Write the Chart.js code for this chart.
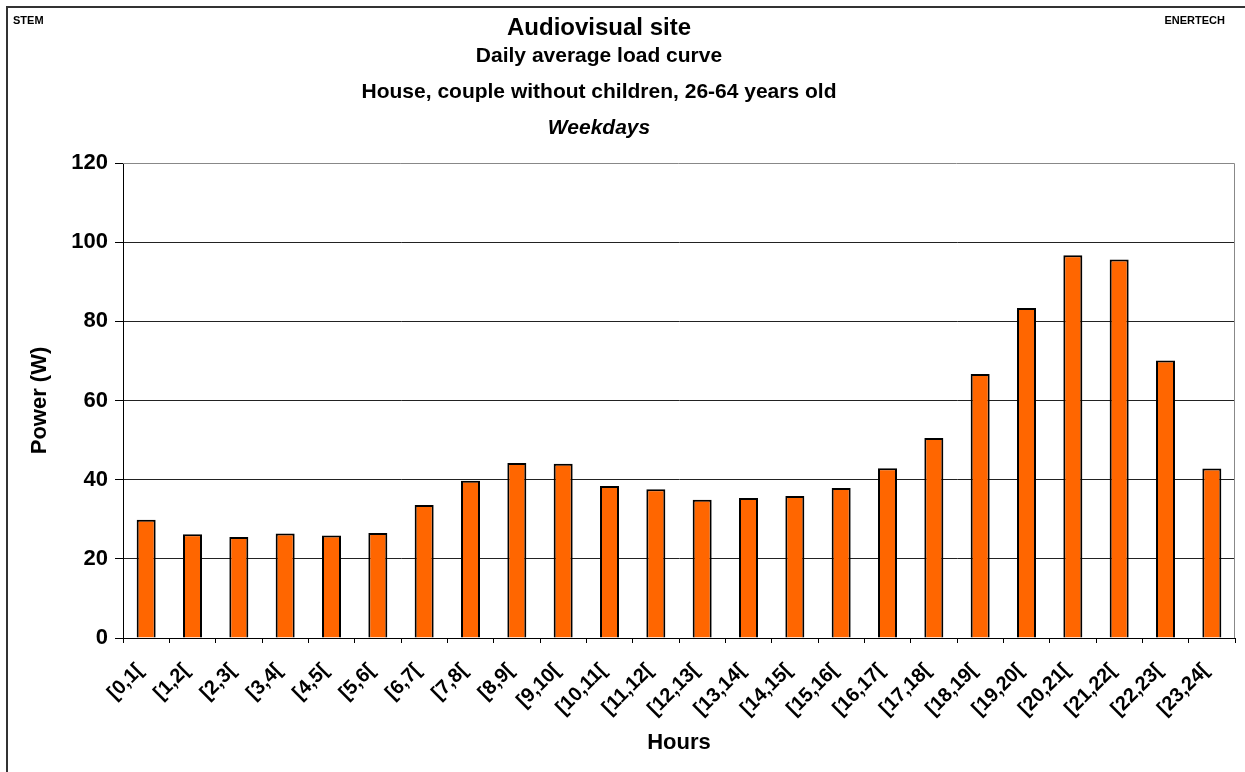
<!DOCTYPE html>
<html>
<head>
<meta charset="utf-8">
<script src="https://cdn.jsdelivr.net/npm/chart.js@4/dist/chart.umd.min.js"></script>
<style>
  html, body { margin: 0; padding: 0; background: #fff; }
  canvas { display: block; }
</style>
</head>
<body>
<canvas id="myChart" width="1245" height="772"></canvas>
<script>
// hour slots on the x axis
const hours = ["[0,1[", "[1,2[", "[2,3[", "[3,4[", "[4,5[", "[5,6[", "[6,7[", "[7,8[",
  "[8,9[", "[9,10[", "[10,11[", "[11,12[", "[12,13[", "[13,14[", "[14,15[", "[15,16[",
  "[16,17[", "[17,18[", "[18,19[", "[19,20[", "[20,21[", "[21,22[", "[22,23[", "[23,24["];
// average power in W
const power = [29.9, 26.2, 25.5, 26.4, 25.9, 26.5, 33.6, 39.7, 44.2, 44.0, 38.4, 37.6,
  34.9, 35.4, 35.9, 37.9, 42.9, 50.5, 66.7, 83.4, 96.7, 95.6, 70.1, 42.8];
const titleLines = ["Audiovisual site", "Daily average load curve",
  "House, couple without children, 26-64 years old", "Weekdays"];
const FONT = "'Liberation Sans', Arial, sans-serif";

/* frame, corner labels and titles */
const decor = {
  id: "decor",
  beforeDraw(chart) {
    const ctx = chart.ctx;
    ctx.save();
    ctx.strokeStyle = "#333";
    ctx.lineWidth = 2;
    ctx.beginPath();
    ctx.moveTo(7, 800);
    ctx.lineTo(7, 7);
    ctx.lineTo(1300, 7);
    ctx.stroke();

    ctx.fillStyle = "#000";
    ctx.textBaseline = "alphabetic";
    ctx.font = "bold 11px " + FONT;
    ctx.textAlign = "left";
    ctx.fillText("STEM", 13, 24);
    ctx.textAlign = "right";
    ctx.fillText("ENERTECH", 1225, 24);

    ctx.textAlign = "center";
    ctx.font = "bold 24px " + FONT;
    ctx.fillText(titleLines[0], 599, 35);
    ctx.font = "bold 21px " + FONT;
    ctx.fillText(titleLines[1], 599, 62);
    ctx.fillText(titleLines[2], 599, 98);
    ctx.font = "italic bold 21px " + FONT;
    ctx.fillText(titleLines[3], 599, 134);
    ctx.restore();
  },
  afterDraw(chart) {
    const {ctx, chartArea: a} = chart;
    ctx.save();
    ctx.strokeStyle = "#888";
    ctx.lineWidth = 1;
    ctx.beginPath();
    ctx.moveTo(a.left, a.top + 0.5);
    ctx.lineTo(a.right - 0.5, a.top + 0.5);
    ctx.lineTo(a.right - 0.5, a.bottom);
    ctx.stroke();
    ctx.restore();
  }
};

const data = {
  labels: hours,
  datasets: [{
    data: power,
    backgroundColor: "#FF6600",
    borderColor: "#000",
    borderWidth: 2,
    categoryPercentage: 1,
    barPercentage: 0.41
  }]
};

const config = {
  type: "bar",
  data: data,
  plugins: [decor],
  options: {
    responsive: false,
    animation: false,
    layout: { padding: { top: 163, right: 9, left: 0, bottom: 0 } },
    plugins: {
      legend: { display: false },
      title: { display: false },
      tooltip: { enabled: false }
    },
    scales: {
      x: {
        afterFit(scale) { scale.height = 134; },
        grid: { drawOnChartArea: false, drawTicks: true, tickLength: 5, color: "#000", offset: true },
        border: { color: "#000", width: 1 },
        ticks: {
          color: "#000",
          font: { family: FONT, size: 20, weight: "bold" },
          minRotation: 45,
          maxRotation: 45,
          autoSkip: false,
          padding: 16,
          labelOffset: -6
        },
        title: {
          display: true,
          text: "Hours",
          color: "#000",
          font: { family: FONT, size: 22, weight: "bold" },
          padding: { bottom: 16 }
        }
      },
      y: {
        min: 0,
        max: 120,
        afterFit(scale) { scale.width = 123; },
        grid: {
          color: (c) => (c.tick && c.tick.value === 120 ? "rgba(0,0,0,0)" : "#222"),
          tickColor: "#000",
          tickLength: 8,
          drawTicks: true
        },
        border: { color: "#000", width: 1 },
        ticks: {
          stepSize: 20,
          color: "#000",
          padding: 7,
          font: { family: FONT, size: 22, weight: "bold" }
        },
        title: {
          display: true,
          text: "Power (W)",
          color: "#000",
          font: { family: FONT, size: 22, weight: "bold" },
          padding: { top: 27 }
        }
      }
    }
  }
};

const context = document.getElementById("myChart").getContext("2d");
const chart = new Chart(context, config);
</script>
</body>
</html>
